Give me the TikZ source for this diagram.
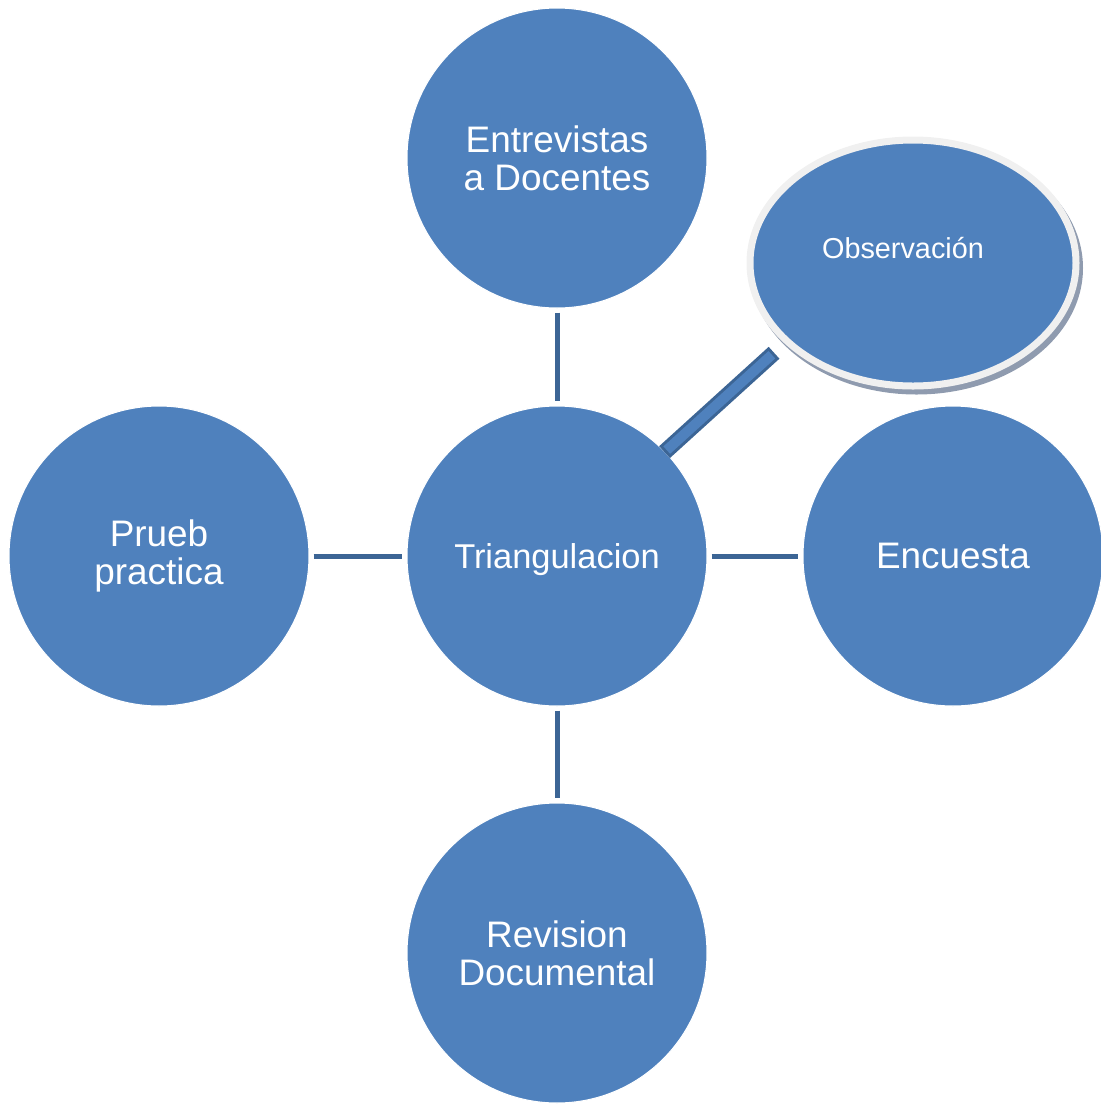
\documentclass[tikz,border=0pt]{standalone}
\usepackage{fontspec}
\setmainfont{Liberation Sans}
\usetikzlibrary{shapes.geometric}

\definecolor{circblue}{HTML}{4F81BD}
\definecolor{linkblue}{HTML}{3C6595}
\definecolor{ringgray}{HTML}{F0F0F0}
\definecolor{shadowgray}{HTML}{8F9BAF}

\begin{document}
\begin{tikzpicture}[
		method/.style={circle, fill=circblue, draw=white, line width=0.3pt, minimum size=3cm, inner sep=0pt,
			text=white, align=center, font=\fontsize{10.5}{10.8}\selectfont},
		link/.style={draw=linkblue, line width=0.05cm, shorten <=0.04cm, shorten >=0.04cm},
		obsring/.style={ellipse, fill=circblue, draw=ringgray, line width=0.07cm, minimum width=3.26cm, minimum height=2.46cm, inner sep=0pt},
		barout/.style={draw=linkblue, line width=0.16cm, shorten <=-0.01cm, shorten >=0.14cm},
		barin/.style={draw=circblue, line width=0.10cm, shorten <=0.02cm, shorten >=0.17cm}
	]
	\useasboundingbox (0,0) rectangle (11.01,-11.05);

	% the five circles
		\node[method, font=\fontsize{9.8}{10.8}\selectfont, text depth=0pt] (tri) at (5.57,-5.56) {Triangulacion};
		\node[method] (entre) at (5.57,-1.58) {Entrevistas\\a Docentes};
		\node[method] (rev) at (5.57,-9.53) {Revision\\Documental};
		\node[method] (prueb) at (1.59,-5.56) {Prueb\\practica};
		\node[method] (enc) at (9.53,-5.56) {Encuesta};

	% observacion, with its ring and shadow
		\coordinate (obspos) at (9.13,-2.63);
		\fill[shadowgray] ([shift={(0.035,-0.05)}]obspos) ellipse (1.665 and 1.265);
		\node[obsring, label={[text=white, font=\fontsize{8.2}{9}\selectfont, shift={(-0.10,0.15)}]center:Observación}] (obs) at (obspos) {};

		\draw[link] (entre) -- (tri);
		\draw[link] (tri) -- (rev);
		\draw[link] (prueb) -- (tri);
		\draw[link] (tri) -- (enc);
		\draw[barout] (tri.44) -- (obs.212);
		\draw[barin] (tri.44) -- (obs.212);
\end{tikzpicture}
\end{document}
